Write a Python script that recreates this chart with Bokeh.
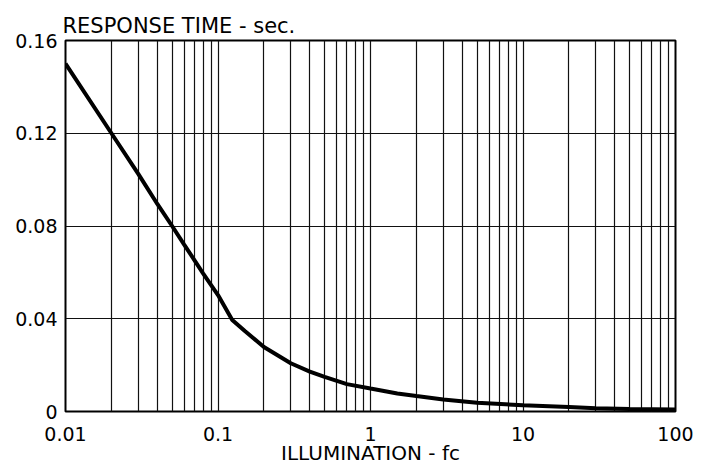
from bokeh.plotting import figure
from bokeh.models import Range1d, FixedTicker, CustomJSTickFormatter
from bokeh.embed import file_html
from bokeh.resources import INLINE

# Data
illumination_fc = [0.01, 0.02, 0.03, 0.04, 0.05, 0.06, 0.08, 0.1, 0.124, 0.15,
                   0.2, 0.3, 0.4, 0.5, 0.7, 1, 1.5, 2, 3, 5, 10, 20, 30, 50, 100]
response_sec = [0.150, 0.120, 0.1025, 0.0895, 0.080, 0.072, 0.0595, 0.0502, 0.0395, 0.0347,
                0.0278, 0.0208, 0.0172, 0.0149, 0.0118, 0.0099, 0.0078, 0.0067, 0.0052, 0.0038,
                0.0027, 0.0019, 0.0014, 0.0011, 0.0009]

x_major_ticks = [0.01, 0.1, 1, 10, 100]
x_tick_labels = ["0.01", "0.1", "1", "10", "100"]
x_grid_ticks = [m * d for d in [0.01, 0.1, 1, 10] for m in range(1, 10)] + [100]
y_major_ticks = [0, 0.04, 0.08, 0.12, 0.16]
y_tick_labels = ["0", "0.04", "0.08", "0.12", "0.16"]
y_grid_ticks = [0.04, 0.08, 0.12]

title_text = "RESPONSE TIME - sec."
xlabel_text = "ILLUMINATION - fc"
FONT = "DejaVu Sans"

p = figure(width=704, height=470, x_axis_type="log",
           x_range=Range1d(0.01, 100), y_range=Range1d(0, 0.16),
           output_backend="svg", toolbar_location=None,
           min_border_left=65, min_border_right=29, min_border_top=40, min_border_bottom=59)

p.background_fill_color = "white"
p.border_fill_color = "white"
p.outline_line_color = "black"
p.outline_line_width = 2

# title
p.title.text = title_text
p.title.align = "left"
p.title.offset = -3
p.title.standoff = 6
p.title.text_font = FONT
p.title.text_font_size = "21px"
p.title.text_font_style = "normal"
p.title.text_color = "black"

# grid
p.xgrid.ticker = FixedTicker(ticks=x_grid_ticks)
p.ygrid.ticker = FixedTicker(ticks=y_grid_ticks)
for g in (p.xgrid, p.ygrid):
    g.grid_line_color = "#111111"
    g.grid_line_width = 1.2
    g.grid_line_alpha = 1.0

# axes
p.xaxis.ticker = FixedTicker(ticks=x_major_ticks)
p.xaxis.formatter = CustomJSTickFormatter(args=dict(lbls=x_tick_labels, tvals=x_major_ticks), code="""
    for (let i = 0; i < tvals.length; i++) { if (Math.abs(Math.log10(tick) - Math.log10(tvals[i])) < 1e-6) return lbls[i]; }
    return String(tick);
""")
p.yaxis.ticker = FixedTicker(ticks=y_major_ticks)
p.yaxis.formatter = CustomJSTickFormatter(args=dict(lbls=y_tick_labels, tvals=y_major_ticks), code="""
    for (let i = 0; i < tvals.length; i++) { if (Math.abs(tick - tvals[i]) < 1e-9) return lbls[i]; }
    return String(tick);
""")
for ax in (p.xaxis, p.yaxis):
    ax.axis_line_color = None
    ax.major_tick_line_color = None
    ax.minor_tick_line_color = None
    ax.major_tick_out = 0
    ax.major_tick_in = 0
    ax.minor_tick_out = 0
    ax.minor_tick_in = 0
    ax.major_label_text_font = FONT
    ax.major_label_text_font_size = "19px"
    ax.major_label_text_color = "black"
p.xaxis.major_label_standoff = 15
p.yaxis.major_label_standoff = 8

p.xaxis.axis_label = xlabel_text
p.xaxis.axis_label_text_font = FONT
p.xaxis.axis_label_text_font_size = "20px"
p.xaxis.axis_label_text_font_style = "normal"
p.xaxis.axis_label_text_color = "black"
p.xaxis.axis_label_standoff = -3

# curve
p.line(illumination_fc, response_sec, line_color="black", line_width=4)

open("out.html", "w").write(file_html(p, INLINE))
